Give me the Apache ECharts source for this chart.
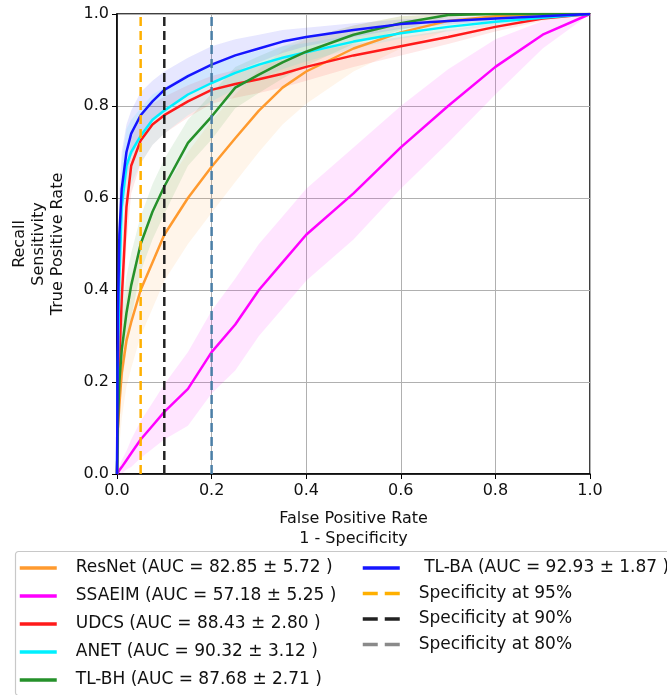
<!DOCTYPE html>
<html><head><meta charset="utf-8">
<script src="https://cdn.jsdelivr.net/npm/echarts@6/dist/echarts.min.js"></script>
<style>html,body{margin:0;padding:0;background:#fff}#c{width:667px;height:695px}</style>
</head><body><div id="c"></div>
<script>
const fpr = [0, 0.002, 0.005, 0.01, 0.02, 0.03, 0.05, 0.075, 0.1, 0.15, 0.2, 0.25, 0.3, 0.35, 0.4, 0.5, 0.6, 0.7, 0.8, 0.9, 1];

const names = ['ResNet (AUC = 82.85 ± 5.72 )','SSAEIM (AUC = 57.18 ± 5.25 )','UDCS (AUC = 88.43 ± 2.80 )','ANET (AUC = 90.32 ± 3.12 )','TL-BH (AUC = 87.68 ± 2.71 )',' TL-BA (AUC = 92.93 ± 1.87 )'];

const resnetTpr = [0, 0.1, 0.15, 0.22, 0.29, 0.33, 0.4, 0.46, 0.52, 0.6, 0.668, 0.73, 0.79, 0.84, 0.875, 0.925, 0.96, 0.985, 0.995, 1, 1];
const ssaeimTpr = [0, 0.003, 0.008, 0.015, 0.03, 0.045, 0.075, 0.105, 0.135, 0.185, 0.265, 0.325, 0.4, 0.46, 0.52, 0.61, 0.71, 0.8, 0.885, 0.955, 1];
const udcsTpr   = [0, 0.12, 0.25, 0.38, 0.58, 0.67, 0.725, 0.76, 0.78, 0.81, 0.835, 0.848, 0.858, 0.87, 0.885, 0.91, 0.93, 0.95, 0.972, 0.99, 1];
const anetTpr   = [0, 0.25, 0.42, 0.58, 0.67, 0.7, 0.735, 0.77, 0.79, 0.825, 0.85, 0.872, 0.89, 0.905, 0.917, 0.94, 0.958, 0.972, 0.983, 0.992, 1];
const tlbhTpr   = [0, 0.12, 0.2, 0.27, 0.35, 0.41, 0.5, 0.57, 0.625, 0.72, 0.777, 0.84, 0.868, 0.895, 0.918, 0.955, 0.98, 0.998, 1, 1, 1];
const tlbaTpr   = [0, 0.35, 0.52, 0.62, 0.7, 0.74, 0.78, 0.81, 0.835, 0.865, 0.89, 0.91, 0.925, 0.94, 0.95, 0.965, 0.978, 0.985, 0.99, 0.995, 1];

const resnetStd = [0, 0.08, 0.09, 0.1, 0.1, 0.1, 0.1, 0.1, 0.1, 0.1, 0.1, 0.095, 0.09, 0.08, 0.07, 0.05, 0.035, 0.02, 0.01, 0.005, 0];
const ssaeimStd = [0, 0.005, 0.01, 0.015, 0.02, 0.03, 0.04, 0.05, 0.06, 0.08, 0.09, 0.1, 0.1, 0.1, 0.1, 0.1, 0.09, 0.08, 0.06, 0.03, 0];
const udcsStd   = [0, 0.08, 0.1, 0.1, 0.08, 0.06, 0.05, 0.045, 0.04, 0.035, 0.03, 0.03, 0.03, 0.03, 0.03, 0.025, 0.02, 0.015, 0.01, 0.005, 0];
const anetStd   = [0, 0.1, 0.1, 0.1, 0.08, 0.07, 0.06, 0.055, 0.05, 0.045, 0.04, 0.035, 0.03, 0.025, 0.02, 0.015, 0.012, 0.01, 0.008, 0.004, 0];
const tlbhStd   = [0, 0.06, 0.07, 0.08, 0.08, 0.07, 0.06, 0.06, 0.06, 0.05, 0.05, 0.045, 0.04, 0.035, 0.03, 0.02, 0.015, 0.005, 0, 0, 0];
const tlbaStd   = [0, 0.1, 0.1, 0.08, 0.06, 0.05, 0.05, 0.045, 0.04, 0.04, 0.04, 0.035, 0.03, 0.025, 0.02, 0.015, 0.01, 0.008, 0.005, 0.003, 0];

const specNames = ['Specificity at 95%', 'Specificity at 90%', 'Specificity at 80%'];
const specX = [0.05, 0.1, 0.2];

const colors = ['#ff9a2e', '#ff00ff', '#ff1a1a', '#00f0ff', '#25912a', '#1515ff'];
const specColors = ['#ffb000', '#222222', '#4a7ea6'];
const specLegendColors = ['#ffb000', '#222222', '#8a8a8a'];

const tprs = [resnetTpr, ssaeimTpr, udcsTpr, anetTpr, tlbhTpr, tlbaTpr];
const stds = [resnetStd, ssaeimStd, udcsStd, anetStd, tlbhStd, tlbaStd];

const FONT = '"DejaVu Sans",sans-serif';
const clamp = v => Math.max(0, Math.min(1, v));

const series = [];
tprs.forEach((t, k) => {
  const rows = fpr.map((x, i) => [x, clamp(t[i] - stds[k][i]), clamp(t[i] + stds[k][i])]);
  series.push({
    type: 'custom', name: 'band' + k, silent: true, z: 1,
    data: rows,
    encode: { x: 0, y: [1, 2] },
    renderItem: function (params, api) {
      if (params.dataIndex !== 0) return;
      const pts = [];
      rows.forEach(r => pts.push(api.coord([r[0], r[2]])));
      for (let i = rows.length - 1; i >= 0; i--) pts.push(api.coord([rows[i][0], rows[i][1]]));
      return { type: 'polygon', shape: { points: pts }, style: { fill: colors[k], opacity: 0.1 } };
    }
  });
});
tprs.forEach((t, k) => {
  series.push({
    type: 'line', name: names[k], symbol: 'none', z: 3,
    data: fpr.map((x, i) => [x, t[i]]),
    lineStyle: { color: colors[k], width: 2.5 }, itemStyle: { color: colors[k] }
  });
});
specX.forEach((x, k) => {
  series.push({
    type: 'line', name: specNames[k], symbol: 'none', z: 4,
    data: [[x, 0], [x, 1]],
    lineStyle: { color: specColors[k], width: 2.5, type: [9, 5] }, itemStyle: { color: specColors[k] }
  });
});

const legendText = { fontFamily: FONT, fontSize: 17, color: '#111', lineHeight: 20, padding: [0, 0, 0, 14] };
const chart = echarts.init(document.getElementById('c'));
chart.setOption({
  animation: false,
  backgroundColor: '#fff',
  grid: { left: 117, right: 77, top: 14, bottom: 221, show: true, borderColor: '#000', borderWidth: 1.5 },
  xAxis: {
    type: 'value', min: 0, max: 1, interval: 0.2,
    name: 'False Positive Rate\n1 - Specificity', nameLocation: 'middle', nameGap: 35,
    nameTextStyle: { fontFamily: FONT, fontSize: 16, color: '#111', lineHeight: 20 },
    axisLine: { lineStyle: { color: '#000', width: 1.5 } },
    axisTick: { show: true, length: 5, lineStyle: { color: '#000' } },
    axisLabel: { fontFamily: FONT, fontSize: 16, color: '#111', margin: 9, formatter: v => v.toFixed(1) },
    splitLine: { show: true, lineStyle: { color: '#b0b0b0', width: 1 } }
  },
  yAxis: {
    type: 'value', min: 0, max: 1, interval: 0.2,
    name: 'Recall\nSensitivity\nTrue Positive Rate', nameLocation: 'middle', nameRotate: 90, nameGap: 50,
    nameTextStyle: { fontFamily: FONT, fontSize: 16, color: '#111', lineHeight: 19 },
    axisLine: { lineStyle: { color: '#000', width: 1.5 } },
    axisTick: { show: true, length: 5, lineStyle: { color: '#000' } },
    axisLabel: { fontFamily: FONT, fontSize: 16, color: '#111', margin: 8, formatter: v => v.toFixed(1) },
    splitLine: { show: true, lineStyle: { color: '#b0b0b0', width: 1 } }
  },
  legend: [
    { orient: 'vertical', left: 18, top: 558, height: 137, padding: 0, itemWidth: 37, itemHeight: 14, itemGap: 8,
      data: names.slice(0, 5), textStyle: legendText, selectedMode: false,
      itemStyle: { opacity: 0 }, lineStyle: { width: 3.5 } },
    { orient: 'vertical', left: 361, top: 558, height: 137, padding: 0, itemWidth: 37, itemHeight: 14, itemGap: 5.5,
      selectedMode: false, textStyle: legendText, itemStyle: { opacity: 0 }, lineStyle: { width: 3.5 },
      data: [{ name: names[5] }].concat(specNames.map((n, k) => ({
        name: n, lineStyle: { color: specLegendColors[k], width: 3.5, type: [15, 7] }
      }))) }
  ],
  graphic: [{ type: 'rect', left: 13, top: 549, shape: { width: 670, height: 144, r: 3 },
    style: { fill: 'none', stroke: '#c8c8c8', lineWidth: 1.2 }, silent: true, z: -1 }],
  series: series
});
</script></body></html>
